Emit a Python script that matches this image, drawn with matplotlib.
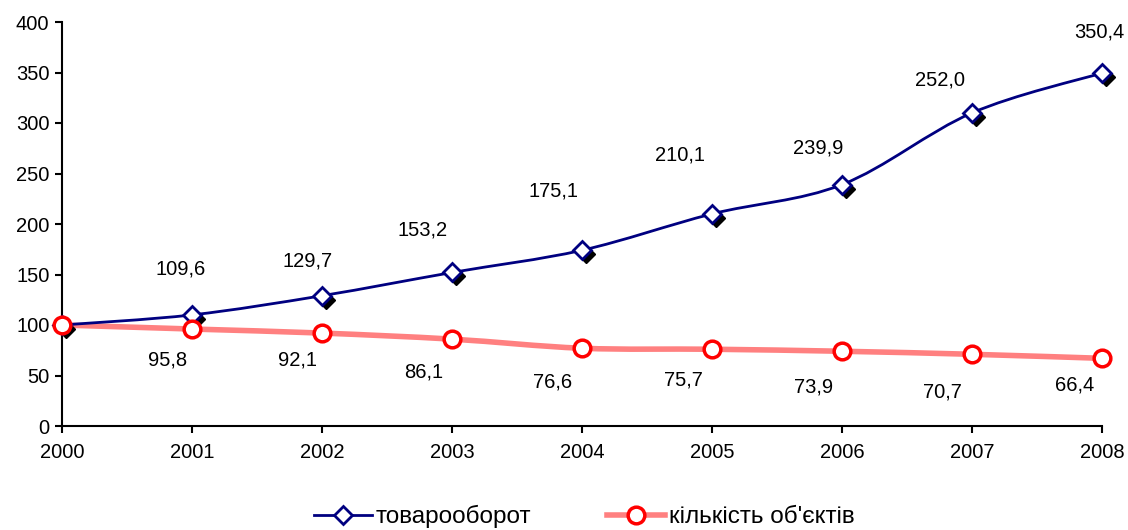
import matplotlib
matplotlib.use('Agg')
from matplotlib import pyplot as plt
from matplotlib.path import Path
from matplotlib.patches import PathPatch
from matplotlib.lines import Line2D
import matplotlib.transforms as mtransforms

plt.rcParams['font.family'] = ['Liberation Sans', 'DejaVu Sans']

# data
years = [2000, 2001, 2002, 2003, 2004, 2005, 2006, 2007, 2008]
turnover = [100, 110, 129, 152, 174, 210, 239, 310, 349.5]
objects = [100, 96, 92, 86, 77, 76, 74, 71, 67]

turnover_labels = ['109,6', '129,7', '153,2', '175,1', '210,1', '239,9', '252,0', '350,4']
turnover_lab_x = [2000.91, 2001.89, 2002.77, 2003.78, 2004.75, 2005.82, 2006.75, 2007.98]
turnover_lab_y = [155, 163, 194, 233, 268, 275, 343, 390]

objects_labels = ['95,8', '92,1', '86,1', '76,6', '75,7', '73,9', '70,7', '66,4']
objects_lab_x = [2000.81, 2001.81, 2002.78, 2003.77, 2004.78, 2005.78, 2006.77, 2007.79]
objects_lab_y = [65, 65, 53, 44, 46, 39, 34, 41]

navy = '#000080'
pink = '#FF8080'
fs = 14.5


def smooth_path(xs, ys):
    # catmull-rom style bezier like excel smoothed lines
    verts = [(xs[0], ys[0])]
    codes = [Path.MOVETO]
    n = len(xs)
    for i in range(n - 1):
        x0, y0 = (xs[i - 1], ys[i - 1]) if i > 0 else (xs[i], ys[i])
        x1, y1 = xs[i], ys[i]
        x2, y2 = xs[i + 1], ys[i + 1]
        x3, y3 = (xs[i + 2], ys[i + 2]) if i + 2 < n else (x2, y2)
        c1 = (x1 + (x2 - x0) / 6, y1 + (y2 - y0) / 6)
        c2 = (x2 - (x3 - x1) / 6, y2 - (y3 - y1) / 6)
        verts += [c1, c2, (x2, y2)]
        codes += [Path.CURVE4] * 3
    return Path(verts, codes)


fig = plt.figure(figsize=(11.28, 5.3), dpi=100)
ax = fig.add_axes([62 / 1128, 1 - 426 / 530, 1040 / 1128, 404 / 530])

ax.add_patch(PathPatch(smooth_path(years, objects), facecolor='none',
                       edgecolor=pink, lw=4, zorder=2, clip_on=False))
ax.add_patch(PathPatch(smooth_path(years, turnover), facecolor='none',
                       edgecolor=navy, lw=2, zorder=3, clip_on=False))

# shadows of diamonds
shadow = ax.transData + mtransforms.ScaledTranslation(4 / 100, -4 / 100, fig.dpi_scale_trans)
ax.plot(years, turnover, ls='none', marker='D', ms=9, color='black',
        transform=shadow, zorder=3.5, clip_on=False)
ax.plot(years, turnover, ls='none', marker='D', ms=9, mfc='white', mec=navy,
        mew=2, zorder=4, clip_on=False)
ax.plot(years, objects, ls='none', marker='o', ms=12, mfc='white', mec='red',
        mew=2.5, zorder=5, clip_on=False)

for t, x, y in zip(turnover_labels, turnover_lab_x, turnover_lab_y):
    ax.text(x, y, t, ha='center', va='center', fontsize=fs)
for t, x, y in zip(objects_labels, objects_lab_x, objects_lab_y):
    ax.text(x, y, t, ha='center', va='center', fontsize=fs)

ax.set_xlim(2000, 2008)
ax.set_ylim(0, 400)
ax.set_xticks(years)
ax.set_yticks(range(0, 401, 50))
for s in ['top', 'right']:
    ax.spines[s].set_visible(False)
for s in ['left', 'bottom']:
    ax.spines[s].set_linewidth(1.5)
ax.tick_params(axis='both', direction='out', length=5, width=1.5, labelsize=fs)
ax.tick_params(axis='x', pad=7)
ax.tick_params(axis='y', pad=4)

h1 = Line2D([], [], color=navy, lw=2, marker='D', ms=9, mfc='white', mec=navy, mew=2)
h2 = Line2D([], [], color=pink, lw=4, marker='o', ms=12, mfc='white', mec='red', mew=2.5)
fig.legend([h1, h2], ['товарооборот', 'кількість об\'єктів'], loc='lower center',
           bbox_to_anchor=(0.518, -0.038), ncol=2, frameon=False, fontsize=17.5,
           handlelength=2.4, handletextpad=0.15, columnspacing=3.1)

plt.savefig('out.png', dpi=100)
